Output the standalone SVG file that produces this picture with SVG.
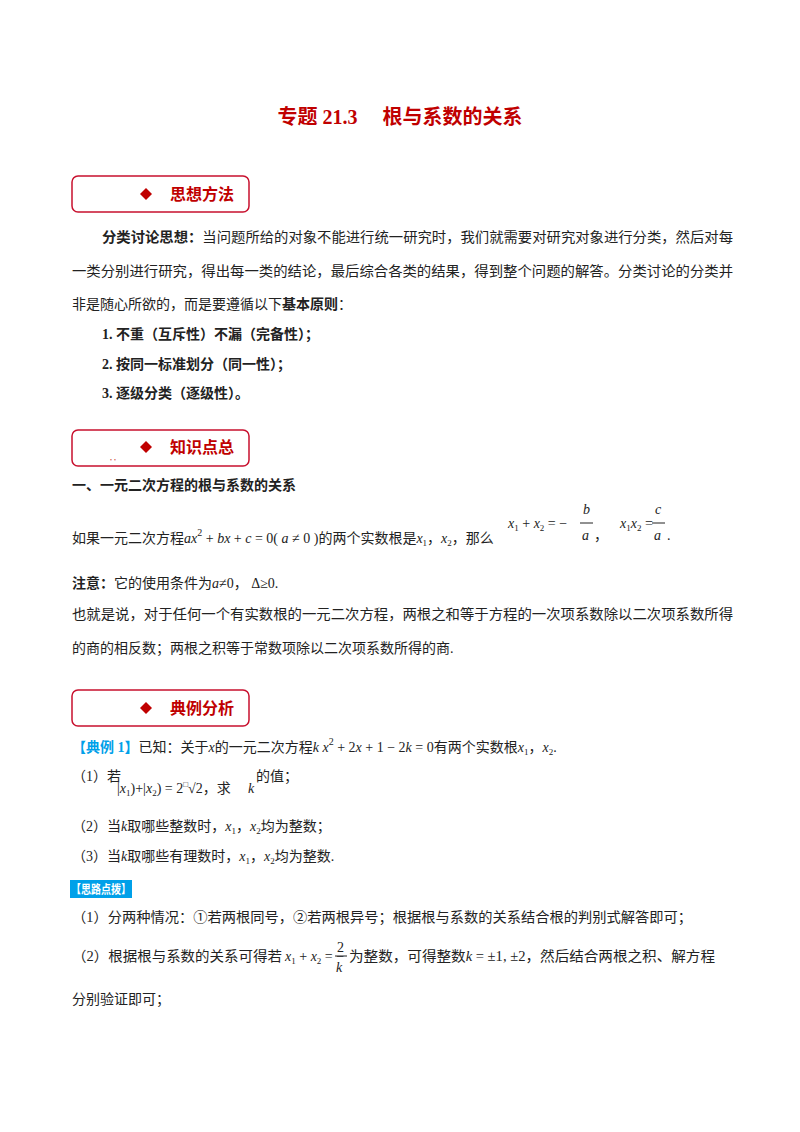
<svg xmlns="http://www.w3.org/2000/svg" width="800" height="1132" viewBox="0 0 800 1132">
<style>
text{font-family:"Liberation Serif","Noto Sans CJK SC",serif;font-size:14px;fill:#222}
.b{font-weight:bold}
.m{font-family:"Liberation Serif",serif;font-style:italic}
.r{fill:#c00000}
.box{fill:#fff;stroke:#c8102e;stroke-width:1.5}
.h{font-size:16px;font-weight:bold;fill:#c00000}
.bl{fill:#00a0e9;font-weight:bold}
</style>
<rect width="800" height="1132" fill="#fff"/>
<text x="400" y="124" text-anchor="middle" class="r" style="font-size:20px;font-weight:bold">专题 21.3　 根与系数的关系</text>

<g id="box1"><rect class="box" x="72" y="176" width="177" height="36" rx="6"/><path d="M146 188l6 6-6 6-6-6z" fill="#c00000"/><text x="170" y="200" class="h">思想方法</text></g>
<text x="102" y="242" textLength="631" lengthAdjust="spacingAndGlyphs"><tspan class="b">分类讨论思想：</tspan>当问题所给的对象不能进行统一研究时，我们就需要对研究对象进行分类，然后对每</text>
<text x="72" y="276" textLength="661" lengthAdjust="spacingAndGlyphs">一类分别进行研究，得出每一类的结论，最后综合各类的结果，得到整个问题的解答。分类讨论的分类并</text>
<text x="72" y="309">非是随心所欲的，而是要遵循以下<tspan class="b">基本原则</tspan>：</text>
<text x="102" y="339" class="b">1. 不重（互斥性）不漏（完备性）；</text>
<text x="102" y="369" class="b">2. 按同一标准划分（同一性）；</text>
<text x="102" y="398" class="b">3. 逐级分类（逐级性）。</text>

<g id="box2"><rect class="box" x="72" y="430" width="177" height="36" rx="6"/><path d="M146 441l6 6-6 6-6-6z" fill="#c00000"/><text x="170" y="453" class="h">知识点总</text><text x="110" y="460" style="font-size:8px" class="r">, ,</text></g>
<text x="72" y="490" class="b">一、一元二次方程的根与系数的关系</text>
<text x="72" y="543">如果一元二次方程<tspan class="m">ax</tspan><tspan dy="-7" style="font-size:10px">2</tspan><tspan dy="7"> + </tspan><tspan class="m">bx</tspan> + <tspan class="m">c</tspan> = 0( <tspan class="m">a</tspan> ≠ 0 )的两个实数根是<tspan class="m">x</tspan><tspan dy="3" style="font-size:9px">1</tspan><tspan dy="-3">，</tspan><tspan class="m">x</tspan><tspan dy="3" style="font-size:9px">2</tspan><tspan dy="-3">，那么</tspan></text>
<text x="508" y="528"><tspan class="m">x</tspan><tspan dy="3" style="font-size:9px">1</tspan><tspan dy="-3"> + </tspan><tspan class="m">x</tspan><tspan dy="3" style="font-size:9px">2</tspan><tspan dy="-3"> = −</tspan></text>
<text x="583" y="514" class="m">b</text><line x1="580" y1="523" x2="593" y2="523" stroke="#222"/><text x="582" y="540" class="m">a</text><text x="594" y="540">，</text>
<text x="620" y="528"><tspan class="m">x</tspan><tspan dy="3" style="font-size:9px">1</tspan><tspan dy="-3" class="m">x</tspan><tspan dy="3" style="font-size:9px">2</tspan><tspan dy="-3"> = </tspan></text>
<text x="655" y="514" class="m">c</text><line x1="652" y1="523" x2="665" y2="523" stroke="#222"/><text x="654" y="540" class="m">a</text><text x="667" y="540">.</text>
<text x="72" y="588"><tspan class="b">注意：</tspan>它的使用条件为<tspan class="m">a</tspan>≠0，  Δ≥0.</text>
<text x="72" y="619" textLength="661" lengthAdjust="spacingAndGlyphs">也就是说，对于任何一个有实数根的一元二次方程，两根之和等于方程的一次项系数除以二次项系数所得</text>
<text x="72" y="653">的商的相反数；两根之积等于常数项除以二次项系数所得的商.</text>

<g id="box3"><rect class="box" x="72" y="690" width="177" height="36" rx="6"/><path d="M146 702l6 6-6 6-6-6z" fill="#c00000"/><text x="170" y="714" class="h">典例分析</text></g>
<text x="72" y="752"><tspan class="bl">【典例 1】</tspan>已知：关于<tspan class="m">x</tspan>的一元二次方程<tspan class="m">k x</tspan><tspan dy="-7" style="font-size:10px">2</tspan><tspan dy="7"> + 2</tspan><tspan class="m">x</tspan> + 1 − 2<tspan class="m">k</tspan> = 0有两个实数根<tspan class="m">x</tspan><tspan dy="3" style="font-size:9px">1</tspan><tspan dy="-3">，</tspan><tspan class="m">x</tspan><tspan dy="3" style="font-size:9px">2</tspan><tspan dy="-3">.</tspan></text>
<text x="72" y="781">（1）若</text>
<text x="117" y="793">|<tspan class="m">x</tspan><tspan dy="3" style="font-size:9px">1</tspan><tspan dy="-3">)+|</tspan><tspan class="m">x</tspan><tspan dy="3" style="font-size:9px">2</tspan><tspan dy="-3">) = 2</tspan><tspan style="font-size:8px" dy="-6">□</tspan><tspan dy="6">√2</tspan>，求</text>
<text x="248" y="793" class="m">k</text><text x="256" y="781">的值；</text>
<text x="72" y="831">（2）当<tspan class="m">k</tspan>取哪些整数时，<tspan class="m">x</tspan><tspan dy="3" style="font-size:9px">1</tspan><tspan dy="-3">，</tspan><tspan class="m">x</tspan><tspan dy="3" style="font-size:9px">2</tspan><tspan dy="-3">均为整数；</tspan></text>
<text x="72" y="861">（3）当<tspan class="m">k</tspan>取哪些有理数时，<tspan class="m">x</tspan><tspan dy="3" style="font-size:9px">1</tspan><tspan dy="-3">，</tspan><tspan class="m">x</tspan><tspan dy="3" style="font-size:9px">2</tspan><tspan dy="-3">均为整数.</tspan></text>
<rect x="70" y="880" width="62" height="18" fill="#00a0e9"/><text x="71" y="894" textLength="60" lengthAdjust="spacingAndGlyphs" style="fill:#fff;font-weight:bold;font-size:12px">【思路点拨】</text>
<text x="72" y="922" textLength="620" lengthAdjust="spacingAndGlyphs">（1）分两种情况：①若两根同号，②若两根异号；根据根与系数的关系结合根的判别式解答即可；</text>
<text x="72" y="961" textLength="210" lengthAdjust="spacingAndGlyphs">（2）根据根与系数的关系可得若</text>
<text x="285" y="961"><tspan class="m">x</tspan><tspan dy="3" style="font-size:9px">1</tspan><tspan dy="-3"> + </tspan><tspan class="m">x</tspan><tspan dy="3" style="font-size:9px">2</tspan><tspan dy="-3"> = −</tspan></text>
<text x="337" y="952">2</text><line x1="335" y1="956" x2="347" y2="956" stroke="#222"/><text x="336" y="972" class="m">k</text>
<text x="349" y="961" textLength="366" lengthAdjust="spacingAndGlyphs">为整数，可得整数<tspan class="m">k</tspan> = ±1, ±2，然后结合两根之积、解方程</text>
<text x="72" y="1004">分别验证即可；</text>
</svg>
